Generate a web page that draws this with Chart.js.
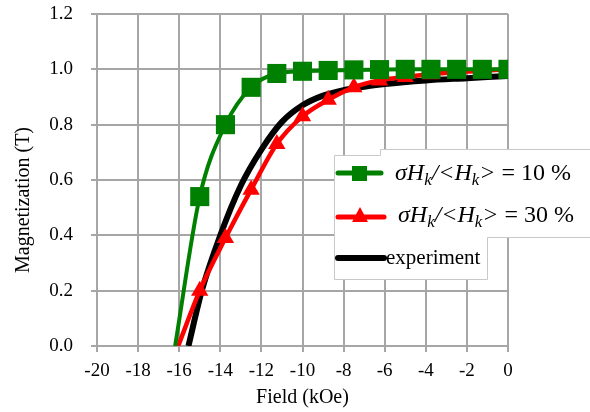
<!DOCTYPE html>
<html><head><meta charset="utf-8">
<script src="https://cdn.jsdelivr.net/npm/chart.js@4/dist/chart.umd.min.js"></script>
<style>
html,body{margin:0;padding:0;background:#fff;}
#wrap{position:relative;width:590px;height:412px;overflow:hidden;}
#c{position:absolute;left:0;top:0;}
#legsvg{position:absolute;left:0;top:0;}
.lt{position:absolute;font-family:"Liberation Serif","Times New Roman",serif;color:#000;white-space:nowrap;line-height:1;}
.lt sub{font-size:70%;vertical-align:baseline;position:relative;top:0.3em;line-height:0;}
#ytitle{position:absolute;left:22px;top:200px;width:0;height:0;}
#ytitle span{position:absolute;transform:translate(-50%,-50%) rotate(-90deg);font-family:"Liberation Serif","Times New Roman",serif;font-size:20px;white-space:nowrap;color:#000;line-height:1;}
</style></head><body>
<div id="wrap">
<canvas id="c" width="590" height="412"></canvas>
<svg id="legsvg" width="590" height="412">
  <polygon points="334.5,155.5 380.5,155.5 380.5,149.5 600,149.5 600,237.5 487.5,237.5 487.5,279.5 334.5,279.5" fill="#fff" stroke="#c8c8c8" stroke-width="1"/>
  <line x1="338" y1="173" x2="381" y2="173" stroke="#008000" stroke-width="5" stroke-linecap="round"/>
  <rect x="352" y="166" width="15" height="15" fill="#008000"/>
  <line x1="338" y1="217" x2="384" y2="217" stroke="#ff0000" stroke-width="5" stroke-linecap="round"/>
  <polygon points="360,207 368,222 352,222" fill="#ff0000"/>
  <line x1="338" y1="258" x2="384" y2="258" stroke="#000" stroke-width="6" stroke-linecap="round"/>
</svg>
<div class="lt" style="left:395px;top:160px;font-size:24px;"><i>σH<sub>k</sub>/&lt;H<sub>k</sub>&gt;</i> = 10 %</div>
<div class="lt" style="left:398px;top:202px;font-size:24px;"><i>σH<sub>k</sub>/&lt;H<sub>k</sub>&gt;</i> = 30 %</div>
<div class="lt" style="left:386px;top:247px;font-size:21px;">experiment</div>
<div id="ytitle"><span>Magnetization (T)</span></div>
</div>
<script>
// Field (kOe) and magnetization (T)
const fieldSim10 = [-16.2, -15, -13.75, -12.5, -11.25, -10, -8.75, -7.5, -6.25, -5, -3.75, -2.5, -1.25, 0];
const magSim10   = [0, 0.54, 0.80, 0.935, 0.985, 0.993, 0.996, 0.998, 0.999, 1.0, 1.0, 1.0, 1.0, 1.0];
const fieldSim30 = [-16.05, -15, -13.75, -12.5, -11.25, -10, -8.75, -7.5, -6.25, -5, -3.75, -2.5, -1.25, 0];
const magSim30   = [0, 0.20, 0.39, 0.565, 0.73, 0.83, 0.89, 0.935, 0.96, 0.972, 0.982, 0.99, 0.995, 1.0];
const fieldExp   = [-15.55, -14.9, -14.0, -13.0, -12.0, -11.0, -10.0, -9.0, -8.0, -7.0, -6.0, -4.0, -2.0, 0];
const magExp     = [0, 0.2, 0.4, 0.58, 0.71, 0.81, 0.87, 0.905, 0.925, 0.937, 0.947, 0.96, 0.968, 0.976];
const xTickMin = -20, xTickMax = 0, xTickStep = 2;
const yTickMin = 0, yTickMax = 1.2, yTickStep = 0.2;
const seriesNames = ['σHk/<Hk> = 10 %', 'σHk/<Hk> = 30 %', 'experiment'];

const toPts = (xs, ys) => xs.map((x, i) => ({x: x, y: ys[i]}));
const gridCol = '#a6a6a6';
const serif = '"Liberation Serif","Times New Roman",serif';

new Chart(document.getElementById('c'), {
  type: 'line',
  data: {
    datasets: [
      {
        label: seriesNames[2], data: toPts(fieldExp, magExp),
        borderColor: '#000', borderWidth: 6, pointRadius: 0,
        cubicInterpolationMode: 'monotone', order: 3
      },
      {
        label: seriesNames[1], data: toPts(fieldSim30, magSim30),
        borderColor: '#ff0000', backgroundColor: '#ff0000', borderWidth: 4.5,
        pointStyle: 'triangle', pointRadius: ctx => ctx.dataIndex === 0 ? 0 : 10,
        pointBorderWidth: 0, pointBackgroundColor: '#ff0000',
        cubicInterpolationMode: 'monotone', order: 2
      },
      {
        label: seriesNames[0], data: toPts(fieldSim10, magSim10),
        borderColor: '#008000', backgroundColor: '#008000', borderWidth: 4,
        pointStyle: 'rect', pointRadius: ctx => ctx.dataIndex === 0 ? 0 : 13.5,
        pointBorderWidth: 0, pointBackgroundColor: '#008000',
        cubicInterpolationMode: 'monotone', order: 1
      }
    ]
  },
  options: {
    responsive: false, animation: false, devicePixelRatio: 1,
    layout: {padding: {top: 14, right: 82, left: 0, bottom: 0}},
    plugins: {legend: {display: false}, tooltip: {enabled: false}},
    scales: {
      x: {
        type: 'linear', min: xTickMin, max: xTickMax,
        ticks: {stepSize: xTickStep, color: '#000', font: {family: serif, size: 19}, padding: 8, maxRotation: 0},
        grid: {color: gridCol, lineWidth: 2, tickLength: 6, tickColor: gridCol},
        border: {color: gridCol, width: 2},
        title: {display: true, text: 'Field (kOe)', color: '#000', font: {family: serif, size: 20}, padding: {top: 0, bottom: 2}},
        afterFit: s => { s.height = 66; }
      },
      y: {
        min: yTickMin, max: yTickMax,
        ticks: {stepSize: yTickStep, color: '#000', font: {family: serif, size: 19}, padding: 18, callback: v => Number(v).toFixed(1)},
        grid: {color: gridCol, lineWidth: 2, tickLength: 6, tickColor: gridCol},
        border: {color: gridCol, width: 2},
        title: {display: false},
        afterFit: s => { s.width = 97; s.paddingTop = 0; s.paddingBottom = 0; }
      }
    }
  }
});
</script>
</body></html>
